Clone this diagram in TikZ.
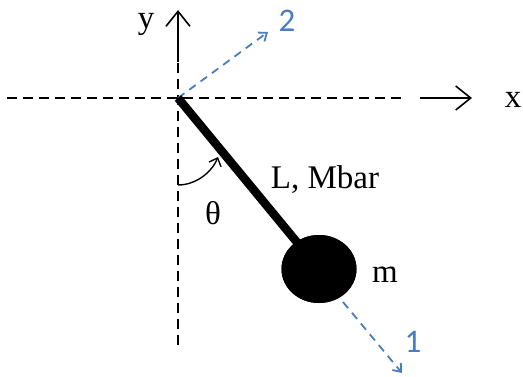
\documentclass[tikz,border=0pt]{standalone}
\usepackage{fontspec}
\setmainfont{Liberation Serif}
\newfontfamily\numfont{Carlito}
\usetikzlibrary{arrows.meta,shapes.geometric}
\definecolor{axblue}{RGB}{70,125,195}
\begin{document}
\begin{tikzpicture}[x=1pt,y=-1pt,
  ax/.style={line width=1.8pt,dash pattern=on 10pt off 6pt},
  tip/.style={-{Straight Barb[length=15pt,width=24pt,line width=1.6pt]}},
  btip/.style={-{Straight Barb[length=7pt,width=11pt,line width=1.8pt]}},
  lbl/.style={font=\fontsize{33}{36}\selectfont,inner sep=0pt},
  nlbl/.style={font=\fontsize{33}{36}\selectfont\numfont,text=axblue,inner sep=0pt}]
\useasboundingbox (0,0) rectangle (523,376);
% axes
\coordinate (O) at (178,98);
\coordinate (xl) at (7,98);
\coordinate (xd) at (404,98);
\coordinate (xs) at (420,98);
\coordinate (xe) at (472,98);
\coordinate (yb) at (178,345);
\coordinate (yd) at (178,62);
\coordinate (ye) at (178,10);
\draw[ax] (xl) -- (xd);
\draw[line width=1.6pt,tip] (xs) -- (xe);
\draw[ax] (yb) -- (O) -- (yd);
\draw[line width=1.6pt,tip] (yd) -- (ye);
\node[lbl] (xlab) at (513,100) {x};
\node[lbl] (ylab) at (146,24) {y};
% axis 2
\coordinate (e2) at (268,32);
\draw[axblue,line width=1.8pt,dash pattern=on 8pt off 6pt,btip] (O) -- (e2);
\node[nlbl] (two) at (287,21) {2};
% ball and rod
\node[ellipse,fill=black,minimum width=75pt,minimum height=68pt,inner sep=0pt] (ball) at (319,269) {};
\draw[line width=8.5pt] (O) -- (ball.center);
\node[ellipse,fill=black,minimum width=75pt,minimum height=68pt,inner sep=0pt] at (319,269) {};
\node[lbl] (m) at (385,275) {m};
\node[lbl] (L) at (325,180) {L, Mbar};
% axis 1
\coordinate (e1s) at (343,302);
\coordinate (e1) at (402,373);
\draw[axblue,line width=1.8pt,dash pattern=on 8pt off 6pt,btip] (e1s) -- (e1);
\node[nlbl] (one) at (413,342) {1};
% theta
\coordinate (a1) at (178,185);
\coordinate (a2) at (218,157);
\draw[line width=1.4pt,-{Straight Barb[length=7pt,width=13pt,line width=1.4pt]}] (a1) .. controls (196,185) and (212,172) .. (a2);
\node[lbl] (th) at (213,213) {θ};
\end{tikzpicture}
\end{document}
